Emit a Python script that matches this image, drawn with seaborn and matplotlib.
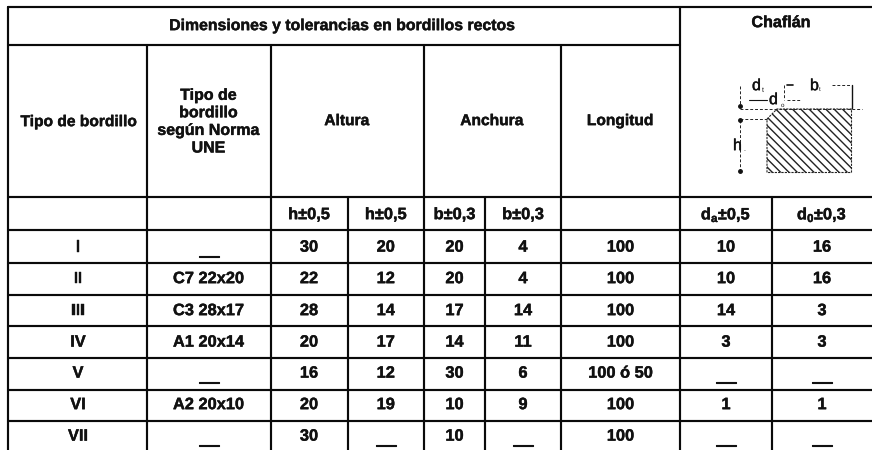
import matplotlib
matplotlib.use("Agg")
import matplotlib.patheffects as pe
import matplotlib.pyplot as plt
import pandas as pd
import seaborn as sns
from matplotlib.patches import Polygon

sns.set_theme(style="white")
plt.rcParams["font.family"] = ["Liberation Sans", "DejaVu Sans"]
plt.rcParams["mathtext.fontset"] = "custom"
plt.rcParams["mathtext.bf"] = "Liberation Sans:bold"
plt.rcParams["mathtext.rm"] = "Liberation Sans:bold"
plt.rcParams["text.hinting"] = "none"
plt.rcParams["hatch.linewidth"] = 1.0

# table content
title = "Dimensiones y tolerancias en bordillos rectos"
chaflan = "Chaflán"
headers = ["Tipo de bordillo", "Tipo de\nbordillo\nsegún Norma\nUNE", "Altura", "Anchura", "Longitud"]
subheaders = ["", "", "h±0,5", "h±0,5", "b±0,3", "b±0,3", "",
              r"$\mathbf{d_a}$±0,5", r"$\mathbf{d_0}$±0,3"]

tipo = ["I", "II", "III", "IV", "V", "VI", "VII"]
norma = ["—", "C7 22x20", "C3 28x17", "A1 20x14", "—", "A2 20x10", "—"]
altura_1 = ["30", "22", "28", "20", "16", "20", "30"]
altura_2 = ["20", "12", "14", "17", "12", "19", "—"]
anchura_1 = ["20", "20", "17", "14", "30", "10", "10"]
anchura_2 = ["4", "4", "14", "11", "6", "9", "—"]
longitud = ["100", "100", "100", "100", "100 ó 50", "100", "100"]
chaflan_a = ["10", "10", "14", "3", "—", "1", "—"]
chaflan_b = ["16", "16", "3", "3", "—", "1", "—"]
columns = [tipo, norma, altura_1, altura_2, anchura_1, anchura_2, longitud, chaflan_a, chaflan_b]

# grid layout in pixels
col_edges = [8, 147, 270.5, 347.5, 424, 485, 561, 680, 772, 872]
row_edges = [6.5, 45, 197, 230, 262.5, 295, 326, 358, 389.5, 421, 450]
row_centers = [247.5, 279, 311, 342.5, 373.5, 405, 436.5]
TEXT = "#111111"
FS = 11.8
FS_HEAD = 11.2
HEAVY = [pe.withStroke(linewidth=0.3, foreground=TEXT)]


def grid_frame():
    # every ruled line of the table as one row per end point
    rules = []
    top, head, mid = row_edges[0], row_edges[1], row_edges[2]
    for y in [top, mid] + row_edges[3:-1]:
        rules.append((8, y, 872, y))
    rules.append((8, head, 680, head))
    for x in col_edges[:-1]:
        start = top if x in (8, 680) else head
        if x in (347.5, 485, 772):
            start = mid
        rules.append((x, start, x, 450))
    rows = []
    for n, (x0, y0, x1, y1) in enumerate(rules):
        rows.append({"rule": n, "x": x0, "y": y0})
        rows.append({"rule": n, "x": x1, "y": y1})
    return pd.DataFrame(rows)


def draw_sketch(ax):
    pts = [(767, 119), (777, 109), (851.5, 109), (851.5, 172.5), (767, 172.5)]
    ax.add_patch(Polygon(pts, closed=True, facecolor="white", edgecolor="#222222",
                         linewidth=0.8, linestyle=(0, (2, 1)), hatch="\\\\\\\\"))
    thin = {"color": "#222222", "linewidth": 0.7, "linestyle": (0, (3, 2))}
    ax.plot([740, 862], [109, 109], **thin)
    ax.plot([740, 767], [119, 119], **thin)
    ax.plot([740, 740], [86, 106], **thin)
    ax.plot([740, 740], [120, 171], **thin)
    ax.plot([832, 851], [85, 85], **thin)
    ax.plot([784, 784], [85, 100], **thin)
    ax.plot([749, 767], [100, 100], color="#111111", linewidth=0.8)
    ax.plot([787, 800], [100, 100], **thin)
    ax.plot([787, 793], [85, 85], color="#111111", linewidth=1.2)
    ax.plot([851.5, 851.5], [85, 108], color="#111111", linewidth=1.0)
    ax.plot([740, 740, 740], [106, 120, 171], "o", color="#111111", markersize=2.5)
    ax.text(752, 86, "d", fontsize=11.5, color=TEXT, va="center", ha="left", path_effects=HEAVY)
    ax.text(762, 90, "t", fontsize=5, color=TEXT, va="center", ha="left")
    ax.text(769, 100, "d", fontsize=11.5, color=TEXT, va="center", ha="left", path_effects=HEAVY)
    ax.text(781, 105, "o", fontsize=4.5, color=TEXT, va="center", ha="left")
    ax.text(810, 86, "b", fontsize=11.5, color=TEXT, va="center", ha="left", path_effects=HEAVY)
    ax.text(819, 89, "t", fontsize=4.5, color=TEXT, va="center", ha="left")
    ax.text(733, 146, "h", fontsize=11.5, color=TEXT, va="center", ha="left", path_effects=HEAVY)
    ax.text(743, 149, ".", fontsize=5, color=TEXT, va="center", ha="left")


def label(ax, x, y, s, **kw):
    opts = dict(ha="center", va="center", fontsize=FS, fontweight="bold", color=TEXT,
                path_effects=HEAVY)
    opts.update(kw)
    ax.text(x, y, s, **opts)


fig = plt.figure(figsize=(8.72, 4.5), dpi=100)
ax = fig.add_axes([0, 0, 1, 1])

sns.lineplot(data=grid_frame(), x="x", y="y", units="rule", estimator=None, sort=False,
             color="#0a0a0a", linewidth=1.55, ax=ax, legend=False)
ax.set_xlim(0, 872)
ax.set_ylim(450, 0)
ax.axis("off")

label(ax, 342.5, 26, title, fontsize=FS_HEAD + 0.2)
label(ax, 781, 23, chaflan, fontsize=FS_HEAD + 0.4)
label(ax, 78.5, 122, headers[0], fontsize=FS_HEAD)
label(ax, 208.5, 122, headers[1], fontsize=FS_HEAD + 0.3, linespacing=1.22)
label(ax, 346.7, 121, headers[2], fontsize=FS_HEAD)
label(ax, 491.7, 121, headers[3], fontsize=FS_HEAD)
label(ax, 620, 121, headers[4], fontsize=FS_HEAD)

centers = [(col_edges[i] + col_edges[i + 1]) / 2 for i in range(len(col_edges) - 1)]
centers[0], centers[1] = 78, 208.5

for cx, s in zip(centers, subheaders):
    if s:
        label(ax, cx, 215, s)

for cx, col in zip(centers, columns):
    for cy, s in zip(row_centers, col):
        if s == "—":
            # small doubled dash so the mark stays inside the last, cropped row
            label(ax, cx, cy + 8.7, s * 2, fontsize=7.2,
                  path_effects=[pe.withStroke(linewidth=0.8, foreground=TEXT)])
        else:
            label(ax, cx, cy, s)

draw_sketch(ax)

fig.savefig("out.png", dpi=100, facecolor="white")
